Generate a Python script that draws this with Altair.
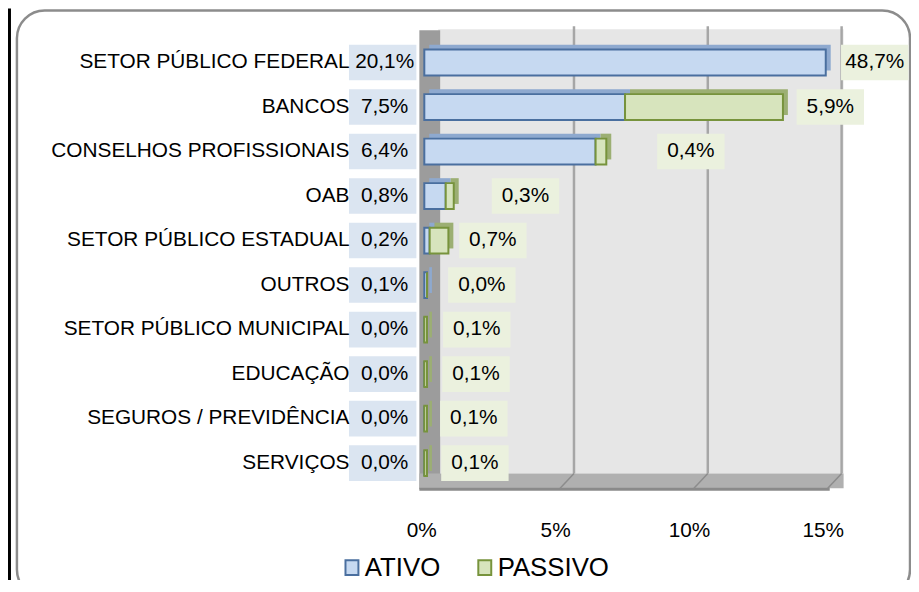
import altair as alt
import pandas as pd

# ---------------- data ----------------
categorias = [
    "SETOR PÚBLICO FEDERAL",
    "BANCOS",
    "CONSELHOS PROFISSIONAIS",
    "OAB",
    "SETOR PÚBLICO ESTADUAL",
    "OUTROS",
    "SETOR PÚBLICO MUNICIPAL",
    "EDUCAÇÃO",
    "SEGUROS / PREVIDÊNCIA",
    "SERVIÇOS",
]
ativo = [20.1, 7.5, 6.4, 0.8, 0.2, 0.1, 0.0, 0.0, 0.0, 0.0]
passivo = [48.7, 5.9, 0.4, 0.3, 0.7, 0.0, 0.1, 0.1, 0.1, 0.1]
series = ["ATIVO", "PASSIVO"]
ticks_x = [0, 5, 10, 15]
# where the PASSIVO data labels sit (in axis units, as placed in the original)
pos_rotulo_passivo = [16.83, 15.17, 9.96, 3.78, 2.56, 2.15, 1.96, 1.93, 1.85, 1.89]

XMAX = ticks_x[-1]

rows = []
for c, a, p in zip(categorias, ativo, passivo):
    rows.append({"categoria": c, "serie": "ATIVO", "valor": a, "ini": 0.0, "fim": a})
    rows.append({"categoria": c, "serie": "PASSIVO", "valor": p, "ini": a, "fim": a + p})
barras = pd.DataFrame(rows)

rotulos = pd.DataFrame({
    "categoria": categorias,
    "ativo": ativo,
    "passivo": passivo,
    "pos": pos_rotulo_passivo,
})
grade = pd.DataFrame({"v": ticks_x[1:]})
one = pd.DataFrame({"k": [0]})

# ---------------- style ----------------
FONT = "Liberation Sans"
C_ATIVO, C_PASSIVO = "#c6d9f1", "#d7e4bd"
S_ATIVO, S_PASSIVO = "#4a6f9f", "#77933c"
T_ATIVO, T_PASSIVO = "#8ea9cf", "#9caf73"

xscale = alt.Scale(domain=[0, XMAX], nice=False, zero=True)
yscale = alt.Scale(domain=categorias, paddingInner=0, paddingOuter=0)
xaxis = alt.Axis(values=ticks_x, labelExpr="datum.value + '%'", labelFontSize=21,
                 labelFont=FONT, labelColor="#000", labelPadding=35, domain=False,
                 ticks=False, grid=False, title=None, labelOffset=-3, zindex=1,
                 labelFlush=False, labelOverlap=False)
yaxis = alt.Axis(labelFontSize=21, labelFont=FONT, labelColor="#000", labelPadding=76,
                 labelLimit=600, domain=False, ticks=False, grid=False, title=None, zindex=1)

X = lambda f: alt.X(f, scale=xscale, axis=xaxis, title=None)
Y = alt.Y("categoria:N", scale=yscale, axis=yaxis, title=None, sort=categorias)

leg_shape = "M-0.87,-1L0.87,-1L0.87,1L-0.87,1Z"
legend = alt.Legend(orient="none", legendX=-86, legendY=519, direction="horizontal",
                    symbolType=leg_shape, symbolSize=225, symbolStrokeWidth=2,
                    labelFontSize=26, labelFont=FONT, labelColor="#000", title=None,
                    columnPadding=31, labelOffset=0)

# ---------------- decoration ----------------
frame = alt.Chart(one).mark_rect(fill="white", stroke="#8c8c8c", strokeWidth=2.5,
                                 cornerRadius=28).encode(
    x=alt.value(-411), x2=alt.value(490), y=alt.value(-30), y2=alt.value(562))

page_line = alt.Chart(one).mark_rule(color="black", strokeWidth=3).encode(
    x=alt.value(-418.5), y=alt.value(-32), y2=alt.value(545))

back_wall = alt.Chart(one).mark_rect(color="#e6e6e6", xOffset=14, x2Offset=18).encode(
    x=alt.datum(0), x2=alt.datum(XMAX), y=alt.value(-11), y2=alt.value(437))

left_wall = alt.Chart(one).mark_rect(color="#9c9c9c", xOffset=-5, x2Offset=16).encode(
    x=alt.datum(0), x2=alt.datum(0), y=alt.value(-10), y2=alt.value(453))

floor = alt.Chart(one).mark_rect(color="#b0b0b0", xOffset=-5, x2Offset=18).encode(
    x=alt.datum(0), x2=alt.datum(XMAX), y=alt.value(437), y2=alt.value(452))

floor_edge = alt.Chart(one).mark_rule(color="#8a8a8a", strokeWidth=3, xOffset=-5, x2Offset=4).encode(
    x=alt.datum(0), x2=alt.datum(XMAX), y=alt.value(453))

gridlines = alt.Chart(grade).mark_rule(color="#a6a6a6", strokeWidth=2.5, xOffset=16).encode(
    x=X("v:Q"), y=alt.value(-14), y2=alt.value(437))

diag = alt.Chart(grade).mark_rule(color="#8c8c8c", strokeWidth=1.5, xOffset=16, x2Offset=2).encode(
    x=X("v:Q"), x2="v:Q", y=alt.value(437), y2=alt.value(452))

# ---------------- bars ----------------
base_bars = alt.Chart(barras).transform_calculate(
    x0=f"min(datum.ini, {XMAX})", x1=f"min(datum.fim, {XMAX})"
).transform_filter(f"datum.x0 < {XMAX}")

shadow = base_bars.mark_bar(size=26, xOffset=5, x2Offset=5, yOffset=-5, y2Offset=-5).encode(
    x=X("x0:Q"), x2="x1:Q", y=Y,
    fill=alt.condition(alt.datum.serie == "ATIVO", alt.value(T_ATIVO), alt.value(T_PASSIVO)),
)

front = base_bars.mark_bar(size=26, strokeWidth=2).encode(
    x=X("x0:Q"), x2="x1:Q", y=Y,
    fill=alt.Fill("serie:N", scale=alt.Scale(domain=series, range=[C_ATIVO, C_PASSIVO]), legend=legend),
    stroke=alt.Stroke("serie:N", scale=alt.Scale(domain=series, range=[S_ATIVO, S_PASSIVO]), legend=legend),
)

# ---------------- data labels ----------------
fmt = "replace(format(datum.{f}, '.1f'), '.', ',') + '%'"
lab = alt.Chart(rotulos).transform_calculate(ta=fmt.format(f="ativo"), tp=fmt.format(f="passivo"))

box_a = lab.mark_bar(size=36, color="#dbe5f1", xOffset=-76, x2Offset=-8).encode(
    x=alt.datum(0), x2=alt.datum(0), y=Y)
txt_a = lab.mark_text(dx=-40, align="center", fontSize=21, font=FONT, color="#000").encode(
    x=alt.datum(0), y=Y, text="ta:N")

box_p = lab.mark_bar(size=36, color="#ebf1de", xOffset=-34, x2Offset=34).encode(
    x=X("pos:Q"), x2="pos:Q", y=Y)
txt_p = lab.mark_text(align="center", fontSize=21, font=FONT, color="#000").encode(
    x=X("pos:Q"), y=Y, text="tp:N")

chart = alt.layer(
    frame, page_line, back_wall, left_wall, floor, floor_edge, gridlines, diag,
    shadow, front, box_a, box_p, txt_a, txt_p,
).properties(
    width=405, height=449,
    autosize=alt.AutoSizeParams(type="none"),
    padding={"left": 420, "top": 30, "right": 86, "bottom": 93},
).configure_view(stroke=None)

chart.save("out.html", embed_options={"renderer": "svg", "actions": False})
